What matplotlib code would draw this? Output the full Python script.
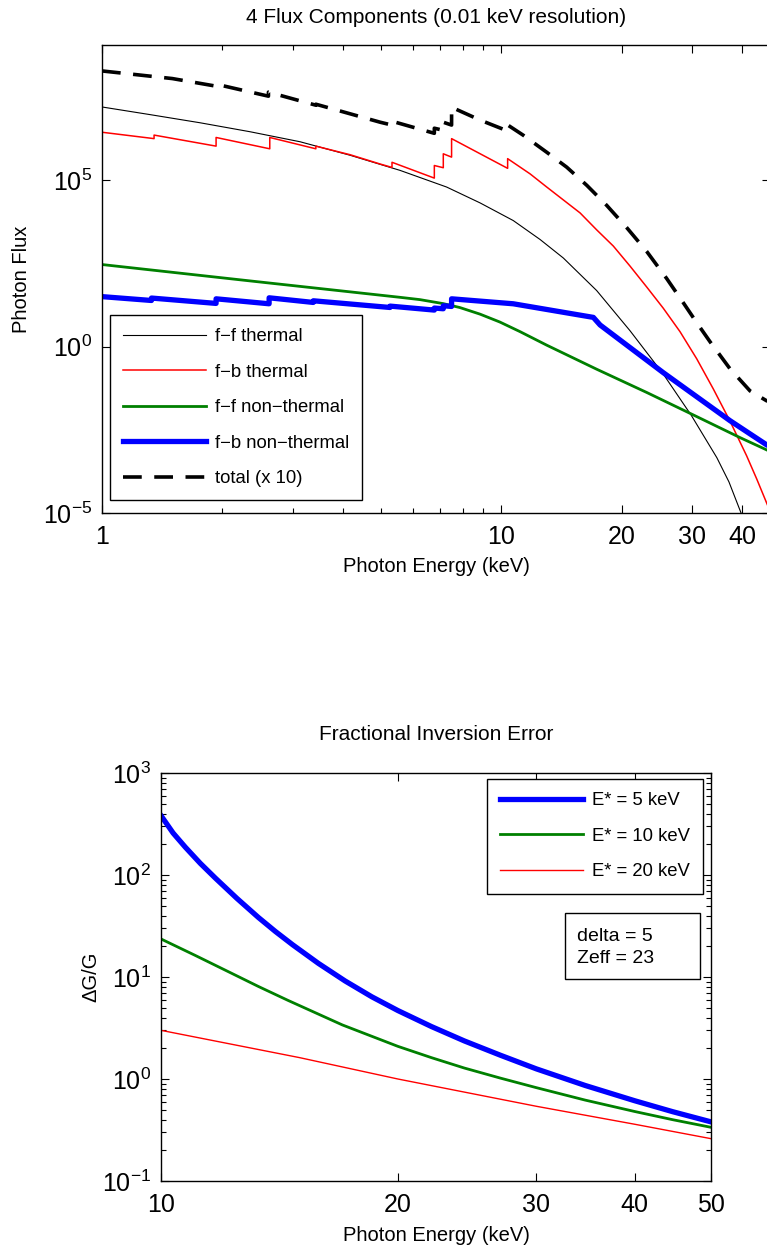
import matplotlib
matplotlib.use("Agg")
import matplotlib.pyplot as plt
from matplotlib.ticker import NullLocator, NullFormatter, FixedLocator
from matplotlib.patches import Rectangle

plt.rcParams['font.family'] = ['Liberation Sans', 'DejaVu Sans']
plt.rcParams['mathtext.fontset'] = 'custom'
plt.rcParams['mathtext.rm'] = 'Liberation Sans'
plt.rcParams['mathtext.it'] = 'Liberation Sans:italic'
plt.rcParams['mathtext.bf'] = 'Liberation Sans:bold'
plt.rcParams['lines.scale_dashes'] = False

# ---------------- top panel data (photon energy keV, photon flux) ----------------
e_ff_th = [1.0, 1.318, 1.759, 2.347, 3.131, 4.177, 5.571, 7.29, 8.84, 10.70, 12.49, 14.28,
           17.31, 20.97, 25.4, 29.9, 34.6, 37.1, 39.9, 41.9]
f_ff_th = [1.61e7, 9.5e6, 5.4e6, 2.9e6, 1.45e6, 5.7e5, 2.0e5, 6.3e4, 2.1e4, 6.2e3, 1.67e3, 464,
           48.6, 3.03, 0.151, 8.4e-3, 4.6e-4, 8.6e-5, 9.1e-6, 1.4e-6]

e_fb_th = [1.0, 1.35, 1.35, 1.93, 1.93, 2.63, 2.63, 3.43, 3.43, 4.18, 4.97, 5.32, 5.32,
           6.79, 6.79, 7.15, 7.15, 7.50, 7.50, 10.36, 10.36, 11.79, 12.98, 15.73, 17.31,
           19.05, 20.97, 23.10, 25.4, 27.98, 30.80, 33.89, 37.32, 41.09, 43.53, 46.10, 49.8]
f_fb_th = [2.8e6, 1.8e6, 2.3e6, 1.07e6, 1.95e6, 8.9e5, 1.95e6, 8.9e5, 1.07e6, 5.9e5, 3.1e5, 2.45e5, 3.5e5,
           1.17e5, 2.8e5, 2.4e5, 6.3e5, 5.0e5, 1.8e6, 2.3e5, 4.5e5, 1.57e5, 6.3e4, 1.05e4, 3.25e3,
           1.06e3, 266, 62, 14.4, 2.83, 0.435, 0.054, 5.8e-3, 5.2e-4, 1.06e-4, 2.0e-5, 2.2e-6]

e_ff_nt = [1.0, 2.347, 5.571, 6.25, 7.15, 7.87, 8.84, 9.91, 11.13, 12.98, 17.31, 23.10,
           30.20, 39.54, 46.10, 49.8]
f_ff_nt = [295, 95, 30.5, 26, 19.7, 15, 9.5, 5.5, 2.83, 1.11, 0.21, 0.042,
           8.9e-3, 1.85e-3, 7.9e-4, 5e-4]

e_fb_nt = [1.0, 1.33, 1.33, 1.93, 1.93, 2.62, 2.62, 3.38, 3.38, 5.26, 5.26,
           6.79, 6.79, 7.15, 7.15, 7.50, 7.50, 10.70, 16.98, 17.65, 25.4, 37.3, 46.1, 49.8]
f_fb_nt = [32, 24.5, 29, 20, 27.5, 19.5, 29.5, 21.4, 24, 15.1, 16.6,
           12.6, 14.5, 13.8, 17, 16.2, 27.5, 19.5, 7.6, 4.5, 0.166, 6.0e-3, 1.12e-3, 7e-4]

e_total = [1.0, 1.50, 1.93, 1.93, 2.61, 2.61, 3.43, 3.43, 4.97, 5.32, 5.32, 6.79, 6.79,
           7.15, 7.15, 7.50, 7.50, 8.84, 10.40, 10.40, 11.34, 12.98, 14.56, 16.35, 18.34,
           20.58, 23.10, 25.91, 28.51, 30.80, 33.25, 37.32, 41.88, 46.10, 49.8]
f_total = [1.95e8, 1.15e8, 6.8e7, 7.8e7, 3.4e7, 4.5e7, 1.82e7, 1.95e7, 5.6e6, 4.6e6, 6.0e6, 2.6e6, 3.7e6,
           3.2e6, 5.6e6, 4.6e6, 1.58e7, 6.5e6, 3.0e6, 4.5e6, 2.27e6, 7.0e5, 2.5e5, 7.1e4, 1.77e4,
           3.8e3, 727, 112, 21, 5.3, 1.42, 0.217, 0.047, 0.0236, 0.019]

top_labels = ['f\u2212f thermal', 'f\u2212b thermal', 'f\u2212f non\u2212thermal',
              'f\u2212b non\u2212thermal', 'total (x 10)']
top_xticks = [1, 10, 20, 30, 40]
top_xminor = [2, 3, 4, 5, 6, 7, 8, 9]
top_yticks = [1e-5, 1e0, 1e5]
top_ytick_labels = ['$10^{-5}$', '$10^{0}$', '$10^{5}$']

# ---------------- bottom panel data (photon energy keV, dG/G) ----------------
e_b5 = [10, 10.36, 10.74, 11.22, 11.73, 12.49, 13.3, 13.98, 14.7, 15.85, 17.14, 18.53,
        20.0, 22.06, 24.3, 27.0, 30, 34.6, 40, 44.7, 50]
g_b5 = [382, 258, 187, 130, 92.9, 58.9, 38.3, 27.9, 20.7, 13.6, 9.14, 6.4,
        4.69, 3.27, 2.36, 1.71, 1.256, 0.864, 0.612, 0.478, 0.380]
e_b10 = [10, 11.05, 12.2, 13.3, 14.5, 17.0, 20, 22.06, 24.3, 27.0, 30, 34.6, 40, 44.7, 50]
g_b10 = [23.6, 16.3, 11.2, 8.07, 5.9, 3.39, 2.09, 1.62, 1.28, 1.02, 0.822, 0.621, 0.48, 0.399, 0.336]
e_b20 = [10, 15, 20, 30, 40, 50]
g_b20 = [3.0, 1.62, 1.0, 0.54, 0.36, 0.26]
bot_labels = ['E* = 5 keV', 'E* = 10 keV', 'E* = 20 keV']
bot_xticks = [10, 20, 30, 40, 50]
bot_yticks = [1e-1, 1e0, 1e1, 1e2, 1e3]
bot_ytick_labels = ['$10^{-1}$', '$10^{0}$', '$10^{1}$', '$10^{2}$', '$10^{3}$']
info_text = 'delta = 5\nZeff = 23'

GREEN = (0, 0.5, 0)
W, H = 767, 1251
TICK_FS = 18
LABEL_FS = 14.5
TITLE_FS = 15
LEG_FS = 13.3

fig = plt.figure(figsize=(W / 100, H / 100), dpi=100)


def style_axes(ax):
    ax.tick_params(which='both', direction='in', top=True, right=True, labelsize=TICK_FS)
    ax.tick_params(which='major', length=6, width=0.8)
    ax.tick_params(which='minor', length=3.5, width=0.8)
    ax.tick_params(axis='x', pad=9)
    ax.tick_params(axis='y', pad=7)
    for s in ax.spines.values():
        s.set_linewidth(1.0)


def make_legend(ax, loc, anchor):
    leg = ax.legend(loc=loc, bbox_to_anchor=anchor, bbox_transform=fig.transFigure,
                    borderaxespad=0, fontsize=LEG_FS, handlelength=4.5, handletextpad=0.45,
                    labelspacing=1.0, borderpad=0.72, fancybox=False, framealpha=1,
                    edgecolor='black')
    leg.get_frame().set_linewidth(1.0)
    return leg


# ---------------- top axes ----------------
ax1 = fig.add_axes([102 / W, 1 - 513 / H, 668 / W, 468 / H])
ax1.plot(e_ff_th, f_ff_th, color='black', lw=0.8, label=top_labels[0])
ax1.plot(e_fb_th, f_fb_th, color='red', lw=1.1, label=top_labels[1])
ax1.plot(e_ff_nt, f_ff_nt, color=GREEN, lw=2.0, label=top_labels[2])
ax1.plot(e_fb_nt, f_fb_nt, color='blue', lw=3.8, label=top_labels[3])
ax1.plot(e_total, f_total, color='black', lw=2.6, linestyle=(0, (13.5, 9)), label=top_labels[4])
ax1.set_xscale('log')
ax1.set_yscale('log')
ax1.set_xlim(1, 47)
ax1.set_ylim(1e-5, 10 ** 9.07)
ax1.xaxis.set_major_locator(FixedLocator(top_xticks))
ax1.set_xticklabels([str(t) for t in top_xticks])
ax1.xaxis.set_minor_locator(FixedLocator(top_xminor))
ax1.xaxis.set_minor_formatter(NullFormatter())
ax1.yaxis.set_major_locator(FixedLocator(top_yticks))
ax1.set_yticklabels(top_ytick_labels)
ax1.yaxis.set_minor_locator(NullLocator())
style_axes(ax1)
ax1.set_xlabel('Photon Energy (keV)', fontsize=LABEL_FS)
ax1.xaxis.set_label_coords(0.5, -(557 - 513) / 468)
ax1.set_ylabel('Photon Flux', fontsize=LABEL_FS)
ax1.yaxis.set_label_coords(-(102 - 31) / 668, 0.5)
ax1.set_title('4 Flux Components (0.01 keV resolution)', fontsize=TITLE_FS, pad=16)
make_legend(ax1, 'upper left', (110 / W, 1 - 315 / H))

# ---------------- bottom axes ----------------
ax2 = fig.add_axes([161 / W, 1 - 1181 / H, 550 / W, 408 / H])
ax2.plot(e_b5, g_b5, color='blue', lw=3.8, label=bot_labels[0])
ax2.plot(e_b10, g_b10, color=GREEN, lw=2.0, label=bot_labels[1])
ax2.plot(e_b20, g_b20, color='red', lw=1.0, label=bot_labels[2])
ax2.set_xscale('log')
ax2.set_yscale('log')
ax2.set_xlim(10, 50)
ax2.set_ylim(1e-1, 1e3)
ax2.xaxis.set_major_locator(FixedLocator(bot_xticks))
ax2.set_xticklabels([str(t) for t in bot_xticks])
ax2.xaxis.set_minor_locator(NullLocator())
ax2.yaxis.set_major_locator(FixedLocator(bot_yticks))
ax2.set_yticklabels(bot_ytick_labels)
style_axes(ax2)
ax2.set_xlabel('Photon Energy (keV)', fontsize=LABEL_FS)
ax2.xaxis.set_label_coords(0.5, -(1226 - 1181) / 408)
ax2.set_ylabel('\u0394G/G', fontsize=LABEL_FS)
ax2.yaxis.set_label_coords(-(161 - 100) / 550, 0.5)
ax2.set_title('Fractional Inversion Error', fontsize=TITLE_FS, pad=24)
make_legend(ax2, 'upper right', (703 / W, 1 - 779 / H))

box = Rectangle((565 / W, 1 - 979 / H), 135 / W, 66 / H, transform=fig.transFigure,
                facecolor='white', edgecolor='black', lw=1.0, clip_on=False, zorder=5)
ax2.add_patch(box)
fig.text(577 / W, 1 - 947.5 / H, info_text, fontsize=14, ha='left', va='center',
         linespacing=1.4, zorder=6)

fig.savefig('out.png', dpi=100)
